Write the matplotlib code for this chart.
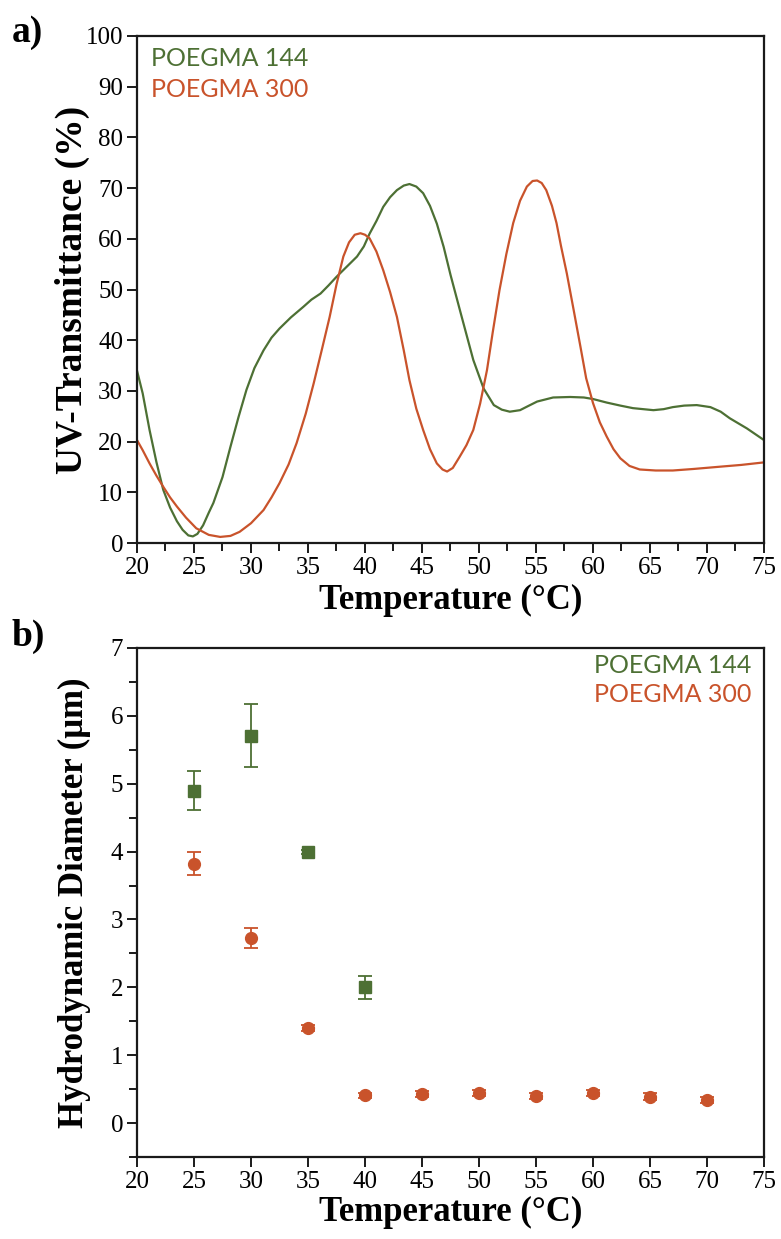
import matplotlib
matplotlib.use("Agg")
import matplotlib.pyplot as plt
from matplotlib.ticker import MultipleLocator

# ---------------- data ----------------
# (a) UV transmittance curves
t_144 = [20.0, 20.5, 21.1, 21.7, 22.3, 22.9, 23.5, 24.0, 24.5, 24.9, 25.3, 25.8,
         26.3, 26.7, 27.5, 28.2, 28.9, 29.6, 30.3, 31.1, 31.8, 32.5, 33.5, 34.6,
         35.3, 36.1, 36.8, 37.5, 38.4, 39.3, 39.9, 40.4, 41.0, 41.6, 42.2, 42.8,
         43.4, 43.9, 44.5, 45.1, 45.7, 46.3, 46.9, 47.5, 48.4, 49.5, 50.4, 51.3,
         52.0, 52.7, 53.6, 54.3, 55.1, 56.5, 58.0, 59.2, 60.0, 61.2, 62.4, 63.5,
         65.3, 66.2, 67.0, 68.0, 69.1, 70.3, 71.2, 72.0, 73.5, 75.0]
v_144 = [34.0, 29.5, 22.3, 16.0, 10.5, 7.0, 4.3, 2.6, 1.5, 1.3, 1.8, 3.5,
         6.0, 7.9, 13.0, 19.0, 24.8, 30.2, 34.5, 38.0, 40.5, 42.3, 44.5, 46.6,
         48.0, 49.2, 50.8, 52.5, 54.5, 56.5, 58.5, 61.0, 63.5, 66.3, 68.2, 69.6,
         70.5, 70.8, 70.3, 69.0, 66.5, 63.0, 58.4, 52.9, 45.3, 36.1, 30.5, 27.2,
         26.3, 25.9, 26.2, 27.0, 27.9, 28.7, 28.8, 28.7, 28.4, 27.7, 27.1, 26.6,
         26.2, 26.4, 26.8, 27.1, 27.2, 26.8, 25.9, 24.6, 22.6, 20.3]

t_300 = [20.0, 20.5, 21.1, 21.7, 22.3, 22.9, 23.5, 24.3, 25.2, 26.3, 27.3, 28.2,
         29.0, 30.0, 31.1, 31.8, 32.5, 33.3, 34.0, 34.8, 35.5, 36.2, 36.9, 37.5,
         38.1, 38.6, 39.1, 39.6, 40.0, 40.4, 41.0, 41.6, 42.2, 42.8, 43.4, 43.9,
         44.5, 45.1, 45.7, 46.3, 46.8, 47.2, 47.7, 48.3, 48.9, 49.5, 50.1, 50.7,
         51.2, 51.8, 52.4, 53.0, 53.6, 54.2, 54.7, 55.1, 55.5, 55.9, 56.4, 56.8,
         57.2, 57.7, 58.3, 58.9, 59.4, 60.0, 60.6, 61.2, 61.8, 62.4, 63.2, 64.1,
         65.5, 67.0, 68.8, 71.4, 73.0, 75.0]
v_300 = [20.3, 18.3, 15.7, 13.3, 11.1, 9.0, 7.2, 5.0, 2.9, 1.6, 1.2, 1.4,
         2.2, 3.9, 6.5, 9.0, 11.8, 15.5, 19.7, 25.5, 31.5, 38.0, 44.6, 51.0,
         56.5, 59.3, 60.8, 61.1, 60.8, 60.1, 57.5, 53.8, 49.5, 44.6, 38.0, 32.1,
         26.5, 22.3, 18.5, 15.7, 14.5, 14.1, 14.8, 17.0, 19.3, 22.3, 27.5, 34.1,
         41.5, 49.9, 57.0, 63.1, 67.5, 70.3, 71.4, 71.5, 71.0, 69.6, 66.5, 63.1,
         58.5, 53.2, 46.0, 38.7, 32.5, 27.6, 23.8, 21.0, 18.5, 16.7, 15.2, 14.5,
         14.3, 14.3, 14.6, 15.1, 15.4, 15.9]

# (b) Hydrodynamic diameter
temp_144 = [25, 30, 35, 40]
d_144 = [4.90, 5.71, 4.00, 2.00]
err_144 = [0.29, 0.46, 0.03, 0.17]

temp_300 = [25, 30, 35, 40, 45, 50, 55, 60, 65, 70]
d_300 = [3.82, 2.73, 1.40, 0.41, 0.43, 0.44, 0.40, 0.44, 0.39, 0.34]
err_300 = [0.17, 0.15, 0.05, 0.04, 0.04, 0.04, 0.04, 0.04, 0.05, 0.04]

labels = ["POEGMA 144", "POEGMA 300"]

GREEN = "#4d7034"
RED = "#c9532b"

SERIF = ["Liberation Serif", "DejaVu Serif"]
LEG_FONT = ["Lato", "DejaVu Sans"]

plt.rcParams["font.family"] = SERIF

fig = plt.figure(figsize=(7.81, 12.39), dpi=100)
W, H = 781, 1239


def add_axes_px(x0, y0, x1, y1):
    return fig.add_axes([x0 / W, 1 - y1 / H, (x1 - x0) / W, (y1 - y0) / H])


def style(ax):
    for s in ax.spines.values():
        s.set_linewidth(1.6)
        s.set_color("#1a1a1a")
    ax.tick_params(which="both", direction="out", top=False, right=False,
                   width=1.4, color="#1a1a1a", labelsize=18, pad=3)
    ax.tick_params(which="major", length=7)
    ax.tick_params(which="minor", length=6)


# ---------------- (a) ----------------
ax1 = add_axes_px(137, 36, 764, 543)
ax1.plot(t_144, v_144, color=GREEN, lw=1.6)
ax1.plot(t_300, v_300, color=RED, lw=1.6)
ax1.set_xlim(20, 75)
ax1.set_ylim(0, 100)
ax1.xaxis.set_major_locator(MultipleLocator(5))
ax1.xaxis.set_minor_locator(MultipleLocator(2.5))
ax1.yaxis.set_major_locator(MultipleLocator(10))
style(ax1)
ax1.set_xlabel("Temperature (°C)", fontsize=25, fontweight="bold", labelpad=4)
ax1.set_ylabel("UV-Transmittance (%)", fontsize=27, fontweight="bold", labelpad=-3)
ax1.text(0.022, 0.955, labels[0], transform=ax1.transAxes, color=GREEN,
         fontsize=18, family=LEG_FONT, va="center", ha="left")
ax1.text(0.022, 0.895, labels[1], transform=ax1.transAxes, color=RED,
         fontsize=18, family=LEG_FONT, va="center", ha="left")
fig.text(12 / W, 1 - 33 / H, "a)", fontsize=27, fontweight="bold", va="center", ha="left")

# ---------------- (b) ----------------
ax2 = add_axes_px(137, 648, 764, 1157)
ax2.errorbar(temp_144, d_144, yerr=err_144, fmt="s", color=GREEN, ms=8.5,
             capsize=5, elinewidth=1.3, capthick=1.3, zorder=3)
ax2.errorbar(temp_300, d_300, yerr=err_300, fmt="o", color=RED, ms=8.5,
             capsize=5, elinewidth=1.3, capthick=1.3, zorder=4)
ax2.set_xlim(20, 75)
ax2.set_ylim(-0.5, 7)
ax2.xaxis.set_major_locator(MultipleLocator(5))
ax2.yaxis.set_major_locator(MultipleLocator(1))
ax2.yaxis.set_minor_locator(MultipleLocator(0.5))
style(ax2)
ax2.set_xlabel("Temperature (°C)", fontsize=25, fontweight="bold", labelpad=2.5)
ax2.set_ylabel("Hydrodynamic Diameter (μm)", fontsize=25, fontweight="bold", labelpad=14)
ax2.text(0.98, 0.965, labels[0], transform=ax2.transAxes, color=GREEN,
         fontsize=18, family=LEG_FONT, va="center", ha="right")
ax2.text(0.98, 0.908, labels[1], transform=ax2.transAxes, color=RED,
         fontsize=18, family=LEG_FONT, va="center", ha="right")
fig.text(12 / W, 1 - 636 / H, "b)", fontsize=27, fontweight="bold", va="center", ha="left")

fig.savefig("out.png", dpi=100, facecolor="white")
